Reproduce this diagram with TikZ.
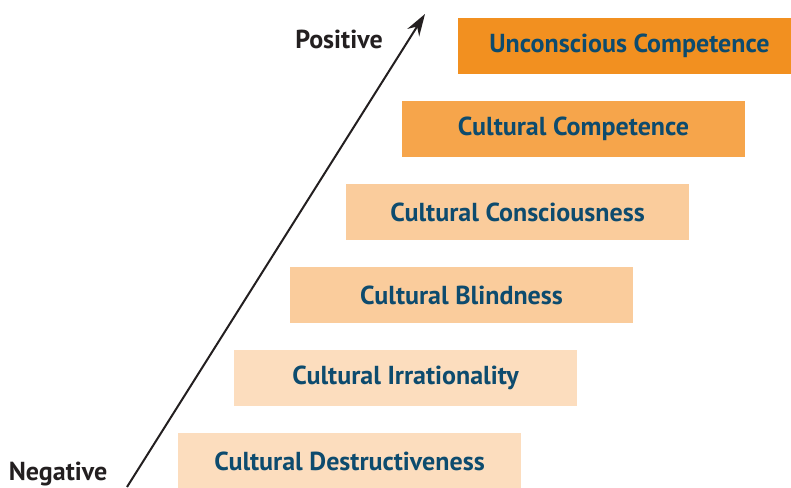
\documentclass[tikz,border=0pt]{standalone}
\usepackage{fontspec}
\setmainfont{PT Sans}
\usetikzlibrary{arrows.meta,calc}
\definecolor{stepink}{HTML}{0D4B6E}
\definecolor{axisink}{HTML}{231F20}
\definecolor{orange1}{HTML}{F29020}
\definecolor{orange2}{HTML}{F6A54B}
\definecolor{orange3}{HTML}{FACC9C}
\definecolor{orange4}{HTML}{FCDDBE}
\tikzset{
    stage/.style =  {rectangle,
                    draw=none,
                    text=stepink,
                    font=\fontsize{13}{15}\selectfont\bfseries,
                    minimum width=171.5pt,
                    minimum height=28pt,
                    inner sep=0pt},
    pole/.style =   {text=axisink,
                    font=\fontsize{13}{15}\selectfont\bfseries,
                    inner sep=0pt},
    -,
    >={Stealth[length=11pt,width=7pt]},
    x=0.5pt, y=0.5pt}

\begin{document}
\begin{tikzpicture}
    \useasboundingbox (0,0) rectangle (791,487);
                \node[stage,fill=orange4]   (destr)                                         at (349.5,26)  {Cultural Destructiveness};
                \node[stage,fill=orange4]   (irrat)   at ([shift={(56,83)}]destr.center)   {Cultural Irrationality};
                \node[stage,fill=orange3]   (blind)   at ([shift={(56,83)}]irrat.center)   {Cultural Blindness};
                \node[stage,fill=orange3]   (consc)   at ([shift={(56,83)}]blind.center)   {Cultural Consciousness};
                \node[stage,fill=orange2]   (compet)  at ([shift={(56,83)}]consc.center)   {Cultural Competence};
                \node[stage,fill=orange1]   (uncon)   at ([shift={(56,83)}]compet.center)  {Unconscious Competence};

                \coordinate (low)  at (127,0);
                \coordinate (high) at (425,473);
                \node[pole] (neg) at (58,13)  {Negative};
                \node[pole] (pos) at (339,448) {Positive};

                \draw [line width=1pt,axisink,->] (low) -- (high);
\end{tikzpicture}
\end{document}
